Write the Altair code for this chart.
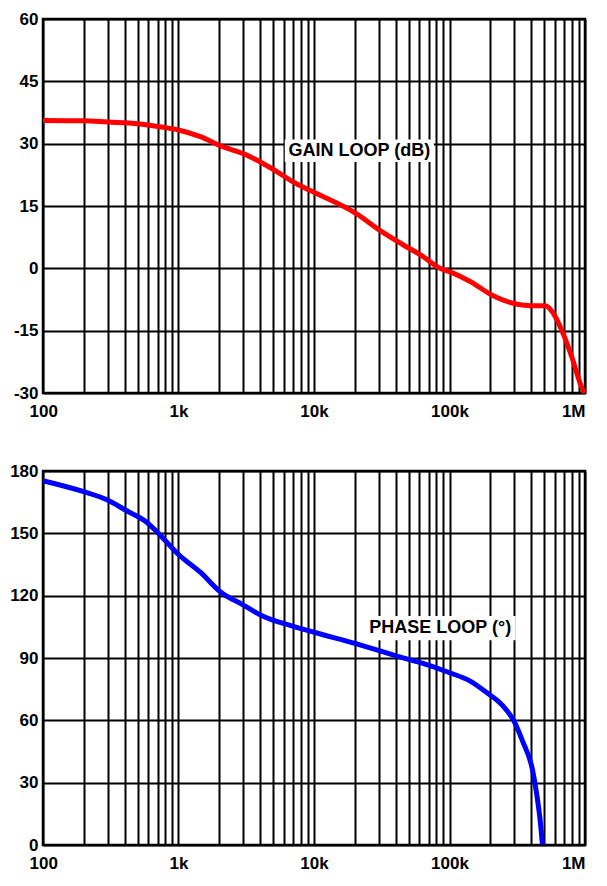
import altair as alt
import pandas as pd

# ---- data ----
gain_freq = [100, 200, 300, 500, 750, 1000, 1450, 2070, 3160, 4170, 5500, 6840,
             10000, 20400, 31000, 44700, 62000, 85000, 100000, 141000, 210000,
             310000, 400000, 510000, 575000, 680000, 800000, 940000, 990000]
gain_db = [35.6, 35.5, 35.2, 34.8, 34.0, 33.3, 31.7, 29.4, 27.3, 25.3, 23.0, 21.0,
           18.3, 13.2, 9.0, 5.8, 3.1, 0.0, -0.8, -3.1, -6.6,
           -8.6, -9.0, -9.0, -10.5, -15.2, -21.4, -28.4, -30.0]

phase_freq = [100, 203, 294, 408, 570, 751, 1000, 1455, 2030, 2990, 4170, 6840,
              10000, 20400, 42000, 62000, 100000, 141000, 187000, 245000, 300000,
              345000, 410000, 442000, 468000, 485000]
phase_deg = [175.3, 169.9, 166.3, 161.1, 155.8, 148.4, 139.8, 131.2, 121.9, 115.6, 110.2, 105.5,
             102.4, 96.9, 90.7, 87.6, 82.9, 79.0, 73.5, 67.3, 59.5,
             50.2, 36.1, 23.7, 11.2, 0.3]

decade_values = [100, 1000, 10000, 100000, 1000000]
decade_labels = ["100", "1k", "10k", "100k", "1M"]
gain_ticks = [-30, -15, 0, 15, 30, 45, 60]
phase_ticks = [0, 30, 60, 90, 120, 150, 180]

# annotations: label text, centre (freq, value), white box (freq0, freq1, value0, value1)
gain_label = ["GAIN LOOP (dB)"]
gain_label_x = [21600]
gain_label_y = [28.3]
gain_box = [6085, 76700, 25.6, 31.0]

phase_label = ["PHASE LOOP (°)"]
phase_label_x = [85500]
phase_label_y = [104.4]
phase_box = [21800, 308000, 98.5, 110.2]

# ---- helpers ----
grid_x = [m * 10 ** e for e in range(2, 6) for m in range(1, 10)] + [1000000]
label_expr = " : ".join(
    f"datum.value == {v} ? '{l}'" for v, l in zip(decade_values, decade_labels)
) + " : ''"

FONT = "Liberation Sans"
W, H = 542, 374

xscale = alt.Scale(type="log", domain=[100, 1000000], nice=False)
xaxis = alt.Axis(values=grid_x, labelExpr=label_expr, title=None, grid=True,
                 ticks=False, domain=False, labelFlush=True, labelOverlap=False,
                 labelOffset={"condition": {"test": "datum.value == 100", "value": -14},
                              "value": 0},
                 labelPadding=10)


def panel(freq, vals, ticks, color, label, lx, ly, box):
    yscale = alt.Scale(domain=[ticks[0], ticks[-1]], nice=False, zero=False)
    yaxis = alt.Axis(values=ticks, title=None, grid=True, ticks=False, domain=False,
                     labelExpr="'' + datum.value", labelPadding=5)
    df = pd.DataFrame({"f": freq, "v": vals})
    line = alt.Chart(df).mark_line(color=color, strokeWidth=5, interpolate="monotone").encode(
        x=alt.X("f:Q", scale=xscale, axis=xaxis),
        y=alt.Y("v:Q", scale=yscale, axis=yaxis),
    )
    bdf = pd.DataFrame({"f0": [box[0]], "f1": [box[1]], "v0": [box[2]], "v1": [box[3]]})
    rect = alt.Chart(bdf).mark_rect(color="white", opacity=1).encode(
        x=alt.X("f0:Q", scale=xscale, axis=xaxis), x2="f1",
        y=alt.Y("v0:Q", scale=yscale, axis=yaxis), y2="v1",
    )
    tdf = pd.DataFrame({"t": label, "f": lx, "v": ly})
    text = alt.Chart(tdf).mark_text(font=FONT, fontSize=18, fontWeight="bold",
                                    color="black", align="center", baseline="middle").encode(
        x=alt.X("f:Q", scale=xscale, axis=xaxis),
        y=alt.Y("v:Q", scale=yscale, axis=yaxis),
        text="t:N",
    )
    return alt.layer(line, rect, text).properties(width=W, height=H)


top = panel(gain_freq, gain_db, gain_ticks, "#ff0000", gain_label, gain_label_x, gain_label_y, gain_box)
bottom = panel(phase_freq, phase_deg, phase_ticks, "#0000ff", phase_label, phase_label_x, phase_label_y, phase_box)

chart = alt.vconcat(top, bottom, spacing=39).properties(
    padding={"left": 0, "top": 0, "right": 0, "bottom": 0},
    background="white",
).configure_view(
    stroke="black", strokeWidth=2.5
).configure_axis(
    gridColor="black", gridWidth=2, gridOpacity=1,
    labelFont=FONT, labelFontSize=17, labelFontWeight="bold", labelColor="black",
)

chart.save("out.html", embed_options={"renderer": "svg", "actions": False})
